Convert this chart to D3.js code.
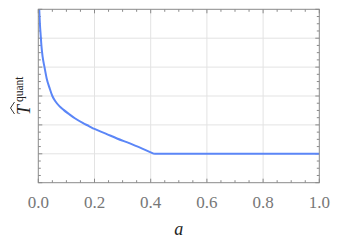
<!DOCTYPE html>
<html>
<head>
<meta charset="utf-8">
<script src="https://cdn.jsdelivr.net/npm/d3@7"></script>
<style>
  body { margin: 0; background: #fff; }
  svg { display: block; }
</style>
</head>
<body>
<div id="chart"></div>
<script>
// values (y in grid units, frame = 0..6)
const decayA = [0, 0.003, 0.006, 0.0085, 0.011, 0.0155, 0.022, 0.03, 0.04, 0.05, 0.062, 0.075, 0.09, 0.11, 0.13, 0.158, 0.18, 0.2, 0.24, 0.28, 0.326, 0.37, 0.412];
const decayT = [7.2, 6.1, 5.45, 5.1, 4.75, 4.35, 4.0, 3.6, 3.28, 3.0, 2.8, 2.65, 2.52, 2.37, 2.23, 2.07, 1.96, 1.86, 1.70, 1.53, 1.36, 1.18, 1.0];
const plateauA = [0.412, 1.0];
const plateauT = [1.0, 1.0];
const xTicks = [0, 0.2, 0.4, 0.6, 0.8, 1.0];
const yGrid = [1, 2, 3, 4, 5];

const width = 339, height = 241;
const margin = { top: 9.3, right: 19.7, bottom: 58.3, left: 38.3 };

const svg = d3.select('#chart').append('svg')
  .attr('width', width)
  .attr('height', height);

const x = d3.scaleLinear().domain([0, 1]).range([margin.left, width - margin.right]);
const y = d3.scaleLinear().domain([0, 6]).range([height - margin.bottom, margin.top]);

const frameCol = '#8a8a8a';

// grid
svg.append('g')
  .selectAll('line')
  .data(xTicks.slice(1, -1))
  .join('line')
  .attr('x1', d => x(d)).attr('x2', d => x(d))
  .attr('y1', y(0)).attr('y2', y(6))
  .attr('stroke', '#e3e3e3').attr('stroke-width', 1);
svg.append('g')
  .selectAll('line')
  .data(yGrid)
  .join('line')
  .attr('x1', x(0)).attr('x2', x(1))
  .attr('y1', d => y(d)).attr('y2', d => y(d))
  .attr('stroke', '#e3e3e3').attr('stroke-width', 1);

// ticks on all four sides, pointing in
const xMinor = d3.range(0, 1.0001, 0.05);
const yMinor = d3.range(0, 6.0001, 0.25);
const tk = svg.append('g').attr('stroke', frameCol).attr('stroke-width', 1);
xMinor.forEach((v, i) => {
  const len = i % 4 === 0 ? 4 : 2.5;
  tk.append('line').attr('x1', x(v)).attr('x2', x(v)).attr('y1', y(0)).attr('y2', y(0) - len);
  tk.append('line').attr('x1', x(v)).attr('x2', x(v)).attr('y1', y(6)).attr('y2', y(6) + len);
});
yMinor.forEach((v, i) => {
  const len = i % 4 === 0 ? 4 : 2.5;
  tk.append('line').attr('x1', x(0)).attr('x2', x(0) + len).attr('y1', y(v)).attr('y2', y(v));
  tk.append('line').attr('x1', x(1)).attr('x2', x(1) - len).attr('y1', y(v)).attr('y2', y(v));
});

// curve
svg.append('clipPath').attr('id', 'clip')
  .append('rect')
  .attr('x', x(0)).attr('y', y(6))
  .attr('width', x(1) - x(0)).attr('height', y(0) - y(6));

const lineCol = '#5b86f7';
const smooth = d3.line().x(d => x(d[0])).y(d => y(d[1])).curve(d3.curveMonotoneX);
const straight = d3.line().x(d => x(d[0])).y(d => y(d[1]));
svg.append('path')
  .datum(d3.zip(decayA, decayT))
  .attr('clip-path', 'url(#clip)')
  .attr('fill', 'none')
  .attr('stroke', lineCol)
  .attr('stroke-width', 2)
  .attr('d', smooth);
svg.append('path')
  .datum(d3.zip(plateauA, plateauT))
  .attr('clip-path', 'url(#clip)')
  .attr('fill', 'none')
  .attr('stroke', lineCol)
  .attr('stroke-width', 2)
  .attr('d', straight);

// frame
svg.append('rect')
  .attr('x', x(0)).attr('y', y(6))
  .attr('width', x(1) - x(0)).attr('height', y(0) - y(6))
  .attr('fill', 'none')
  .attr('stroke', frameCol).attr('stroke-width', 1);

// tick labels
const serif = "'Liberation Serif', 'DejaVu Serif', serif";
svg.append('g')
  .selectAll('text')
  .data(xTicks)
  .join('text')
  .attr('x', d => x(d))
  .attr('y', 208)
  .attr('text-anchor', 'middle')
  .attr('font-family', serif)
  .attr('font-size', 17)
  .attr('fill', '#777')
  .text(d => d3.format('.1f')(d));

// axis titles
svg.append('text')
  .attr('x', (x(0) + x(1)) / 2)
  .attr('y', 235)
  .attr('text-anchor', 'middle')
  .attr('font-family', serif)
  .attr('font-style', 'italic')
  .attr('font-size', 18)
  .attr('fill', '#222')
  .text('a');

const yl = svg.append('g').attr('transform', 'translate(30,96) rotate(-90)');
const tText = yl.append('text')
  .attr('x', -19).attr('y', 0)
  .attr('font-family', serif)
  .attr('font-style', 'italic')
  .attr('font-size', 18)
  .attr('fill', '#222')
  .text('T');
const tb = tText.node().getBBox();
yl.append('text')
  .attr('x', tb.x + tb.width + 1).attr('y', -7)
  .attr('font-family', serif)
  .attr('font-size', 11.5)
  .attr('fill', '#222')
  .text('quant');
// wide hat over T
yl.append('path')
  .attr('d', `M${tb.x + 1},-15.5 L${tb.x + tb.width / 2 + 1},-19.5 L${tb.x + tb.width + 1},-15.5`)
  .attr('fill', 'none')
  .attr('stroke', '#222')
  .attr('stroke-width', 0.9);
</script>
</body>
</html>
